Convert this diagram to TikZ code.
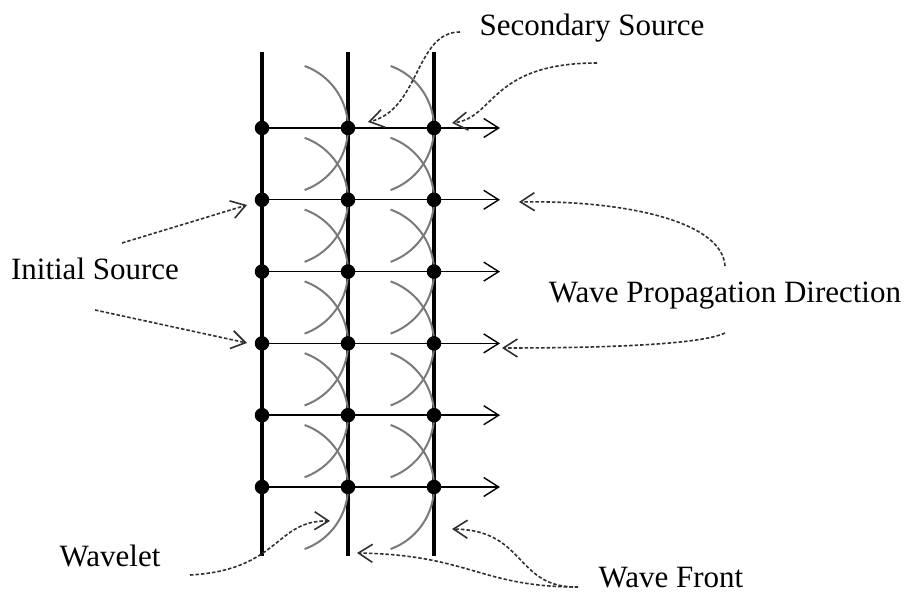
\documentclass[tikz,border=0pt]{standalone}
\usepackage{fontspec}
\setmainfont{Liberation Serif}
\usetikzlibrary{arrows.meta}
\definecolor{wavegray}{HTML}{7A7A7A}
\definecolor{dashgray}{HTML}{303030}
\tikzset{
  lbl/.style={font=\fontsize{31}{36}\selectfont, inner sep=0pt},
  src/.style={circle, fill=black, inner sep=0pt, minimum size=14.5pt},
  front/.style={line width=3.5pt, black},
  wavelet/.style={wavegray, line width=2pt},
  ray/.style={line width=1.4pt, -{Straight Barb[length=15pt, width=19pt]}},
  callout/.style={dashgray, line width=1.6pt, dash pattern=on 3.5pt off 2pt, -{Straight Barb[length=14pt, width=18pt]}},
}

\begin{document}
\begin{tikzpicture}[x=1pt, y=1pt]
  \useasboundingbox (0,0) rectangle (907,596);

  % grid points of the three wave fronts
  \foreach \c/\x in {1/262, 2/348, 3/434} {
    \coordinate (top-\c) at (\x,544);
    \coordinate (bot-\c) at (\x,40);
    \foreach \r in {0,...,5}
      \coordinate (p-\c-\r) at (\x,468-71.8*\r);
  }

  \foreach \c in {1,2,3}
    \draw[front] (top-\c) -- (bot-\c);

  % wavelets
  \foreach \c in {1,2}
    \foreach \r in {0,...,5}
      \draw[wavelet] ([shift={(42.6,62)}]p-\c-\r) arc[start angle=70, end angle=-70, radius=66pt];

  \foreach \r in {0,...,5} {
    \coordinate (e-\r) at (500,468-71.8*\r);
    \draw[ray] (p-1-\r) -- (e-\r);
  }

  \foreach \c in {1,2,3}
    \foreach \r in {0,...,5}
      \node[src] (d-\c-\r) at (p-\c-\r) {};

  % labels
  \node[lbl] (sec) at (592,568) {Secondary Source};
  \node[lbl] (init) at (95,327) {Initial Source};
  \node[lbl] (prop) at (725,300) {Wave Propagation Direction};
  \node[lbl] (wf) at (671,18) {Wave Front};
  \node[lbl] (wlt) at (110,40) {Wavelet};

  % callout ends
  \coordinate (sec-a) at (460,564);
  \coordinate (sec-b) at (597,533);
  \coordinate (init-a) at (122,353);
  \coordinate (init-b) at (95,286);
  \coordinate (prop-a) at (725,330);
  \coordinate (prop-b) at (725,263);
  \coordinate (wf-a) at (578,9);
  \coordinate (wf-b) at (573,9);
  \coordinate (wlt-a) at (190,21);
  \coordinate (tip-sa) at (368,474);
  \coordinate (tip-sb) at (452,473);
  \coordinate (tip-ia) at (247,391);
  \coordinate (tip-ib) at (247,253);
  \coordinate (tip-pa) at (519,394);
  \coordinate (tip-pb) at (502,248);
  \coordinate (tip-fa) at (357,43);
  \coordinate (tip-fb) at (452,67);
  \coordinate (tip-w) at (330,75);

  \draw[callout] (sec-a) .. controls (415,564) and (420,486) .. (tip-sa);
  \draw[callout] (sec-b) .. controls (490,533) and (495,478) .. (tip-sb);
  \draw[callout] (init-a) -- (tip-ia);
  \draw[callout] (init-b) -- (tip-ib);
  \draw[callout] (prop-a) .. controls (722,376) and (620,396) .. (tip-pa);
  \draw[callout] (prop-b) .. controls (700,251) and (600,248) .. (tip-pb);
  \draw[callout] (wf-a) .. controls (480,9) and (470,41) .. (tip-fa);
  \draw[callout] (wf-b) .. controls (515,11) and (525,66) .. (tip-fb);
  \draw[callout] (wlt-a) .. controls (280,26) and (275,76) .. (tip-w);
\end{tikzpicture}
\end{document}
